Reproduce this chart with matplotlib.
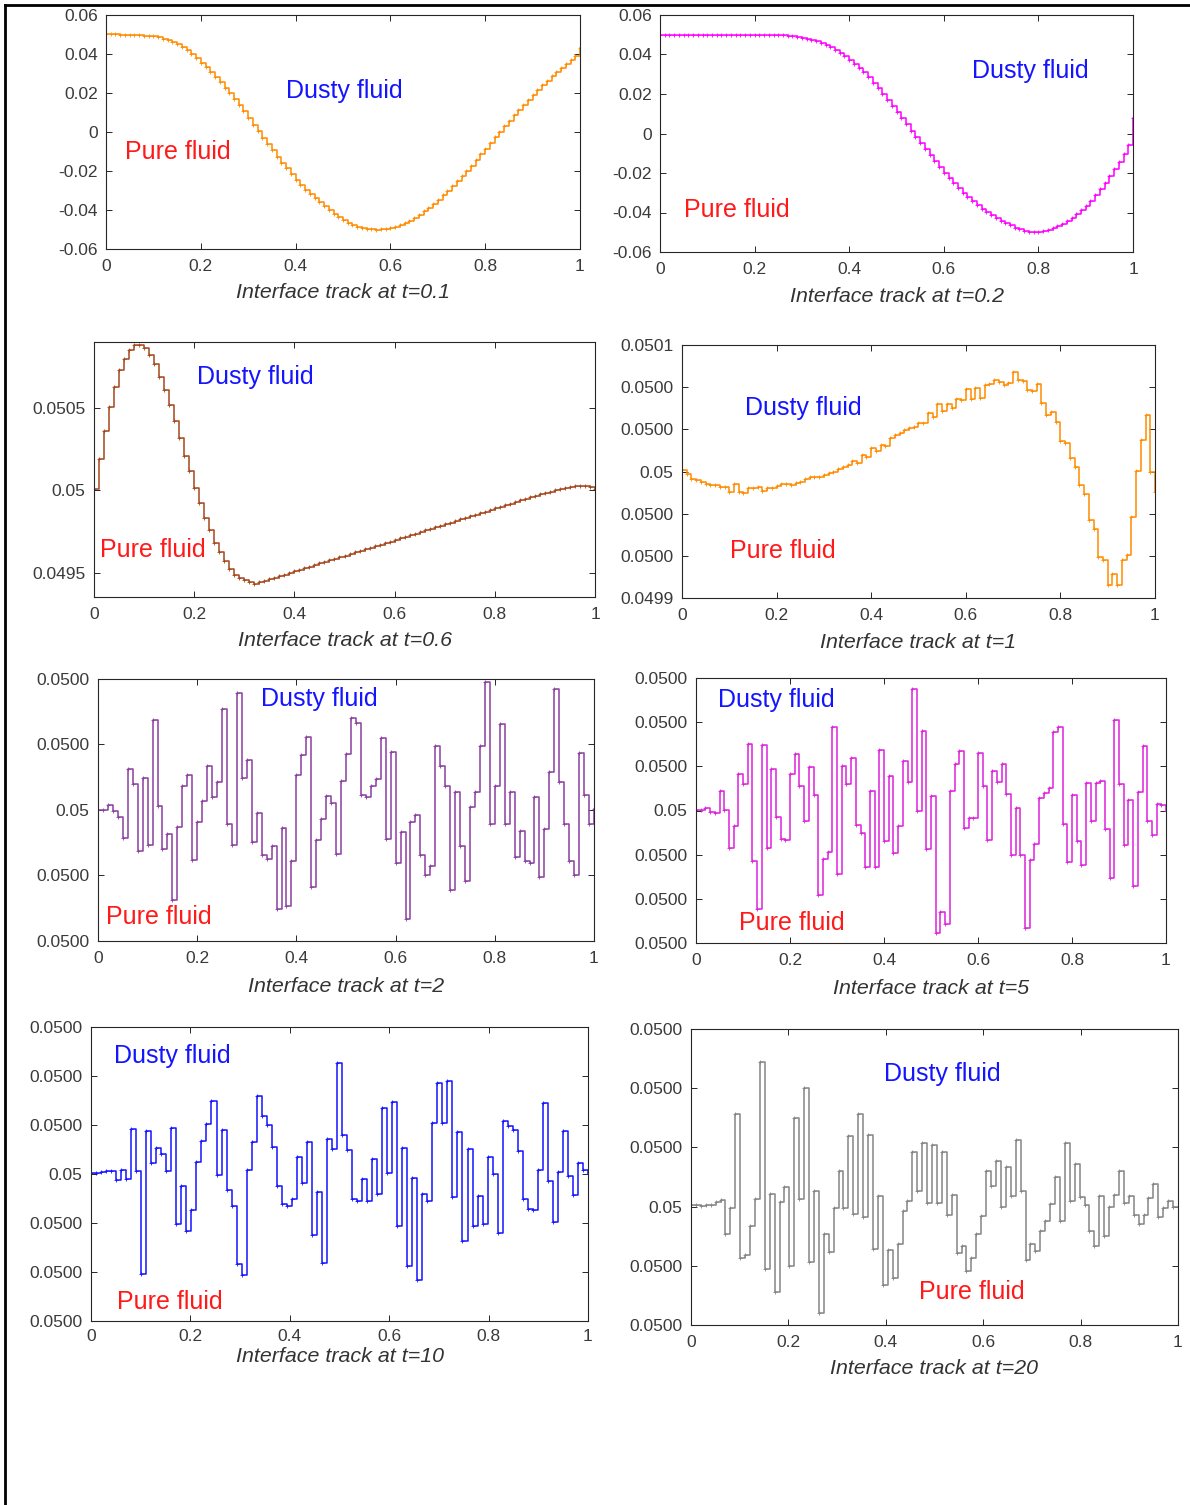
import numpy as np
import matplotlib
matplotlib.use("Agg")
import matplotlib.pyplot as plt
from matplotlib.lines import Line2D
from matplotlib.ticker import FuncFormatter

plt.rcParams['font.family'] = ['Liberation Sans', 'DejaVu Sans']
plt.rcParams['axes.unicode_minus'] = False

# ---- data (one value per cell of width 0.01) ----
track_t01 = [
    0.0500, 0.0500, 0.0500, 0.0499, 0.0499, 0.0498, 0.0497, 0.0496, 0.0494, 0.0492, 0.0490,
    0.0485, 0.0479, 0.0471, 0.0461, 0.0449, 0.0435, 0.0419, 0.0400, 0.0378, 0.0355,
    0.0332, 0.0307, 0.0281, 0.0254, 0.0226, 0.0198, 0.0169, 0.0140, 0.0106, 0.0072,
    0.0038, 0.0004, -0.0029, -0.0062, -0.0094, -0.0126, -0.0157, -0.0187, -0.0216, -0.0244,
    -0.0270, -0.0295, -0.0318, -0.0340, -0.0360, -0.0379, -0.0399, -0.0418, -0.0435, -0.0450,
    -0.0466, -0.0477, -0.0485, -0.0492, -0.0496, -0.0499, -0.0500, -0.0499, -0.0496, -0.0492,
    -0.0485, -0.0477, -0.0466, -0.0454, -0.0440, -0.0424, -0.0407, -0.0388, -0.0368, -0.0347,
    -0.0325, -0.0302, -0.0278, -0.0253, -0.0227, -0.0200, -0.0172, -0.0144, -0.0115, -0.0086,
    -0.0057, -0.0028, 0.0001, 0.0030, 0.0058, 0.0086, 0.0113, 0.0140, 0.0166, 0.0191,
    0.0216, 0.0240, 0.0263, 0.0285, 0.0306, 0.0327, 0.0348, 0.0369, 0.0390, 0.0430]

track_t02 = [0.0500] * 21 + [
    0.0500, 0.0500, 0.0499, 0.0499, 0.0498, 0.0497, 0.0495, 0.0493, 0.0490, 0.0486,
    0.0481, 0.0475, 0.0468, 0.0459, 0.0449, 0.0437, 0.0424, 0.0409, 0.0392, 0.0374,
    0.0354, 0.0332, 0.0309, 0.0284,
    0.0258, 0.0230, 0.0201, 0.0171, 0.0141, 0.0110, 0.0079, 0.0047, 0.0015, -0.0017,
    -0.0049, -0.0080, -0.0111, -0.0141, -0.0170, -0.0198, -0.0225, -0.0251, -0.0276, -0.0300,
    -0.0322, -0.0343, -0.0363, -0.0381, -0.0398, -0.0414, -0.0429, -0.0442, -0.0454, -0.0465,
    -0.0476, -0.0486, -0.0494, -0.0499, -0.0500, -0.0498, -0.0494, -0.0488, -0.0480, -0.0470,
    -0.0458, -0.0444, -0.0428, -0.0410, -0.0389, -0.0366, -0.0340, -0.0312, -0.0282, -0.0250,
    -0.0216, -0.0180, -0.0142, -0.0102, -0.0060, 0.0078]

track_t06 = [
    0.050007, 0.050189, 0.050355, 0.050502, 0.050623, 0.050726, 0.050797, 0.050847, 0.050876,
    0.050876, 0.050858, 0.050819, 0.050761, 0.050686, 0.050609, 0.050516, 0.050421, 0.050316,
    0.050209, 0.050116, 0.050013, 0.049920, 0.049829, 0.049755, 0.049680, 0.049623, 0.049573,
    0.049522, 0.049488, 0.049468, 0.049453, 0.049441, 0.049433,
    0.049440, 0.049450, 0.049459, 0.049469, 0.049478, 0.049488, 0.049497, 0.049507, 0.049516,
    0.049526, 0.049536, 0.049545, 0.049555, 0.049564, 0.049574, 0.049583, 0.049593, 0.049602,
    0.049612, 0.049622, 0.049631, 0.049641, 0.049650, 0.049660, 0.049669, 0.049679, 0.049688,
    0.049698, 0.049708, 0.049717, 0.049727, 0.049736, 0.049746, 0.049755, 0.049765, 0.049774,
    0.049784, 0.049794, 0.049803, 0.049813, 0.049822, 0.049832, 0.049841, 0.049851, 0.049860,
    0.049870, 0.049880, 0.049889, 0.049899, 0.049908, 0.049918, 0.049927, 0.049937, 0.049946,
    0.049956, 0.049965, 0.049974, 0.049982, 0.049990, 0.049998, 0.050006, 0.050013, 0.050020,
    0.050024, 0.050026, 0.050024, 0.050018, 0.050008]

# deviations from 0.05, in units of 2e-5 (t=1) and 1e-5 (t=2, 5, 10, 20)
dev_t1 = [
    0.03, -0.06, -0.17, -0.21, -0.26, -0.29, -0.31, -0.33, -0.36, -0.37, -0.48, -0.29, -0.48,
    -0.52, -0.40, -0.40, -0.37, -0.47, -0.40, -0.40, -0.34, -0.29, -0.29, -0.31, -0.27, -0.26,
    -0.17, -0.13, -0.13, -0.13, -0.09, -0.03, -0.01, 0.07, 0.10, 0.15, 0.25, 0.19, 0.39, 0.34,
    0.55, 0.49, 0.63, 0.61, 0.79, 0.86, 0.92, 0.98, 1.02, 1.05, 1.14, 1.14, 1.38, 1.30, 1.60,
    1.44, 1.60, 1.50, 1.72, 1.70, 1.95, 1.71, 1.98, 1.75, 2.06, 2.07, 2.17, 2.13, 2.06, 2.10,
    2.36, 2.17, 2.15, 1.94, 1.90, 2.07, 1.63, 1.34, 1.40, 1.17, 0.73, 0.67, 0.33, 0.10, -0.31,
    -0.54, -1.14, -1.36, -2.03, -2.11, -2.69, -2.43, -2.69, -2.11, -1.98, -1.09, 0.02, 0.74,
    1.33, -0.02, -0.48]

dev_t2 = [
    0.0, 0.0, 0.08, -0.01, -0.10, -0.43, 0.62, 0.40, -0.62, 0.49, -0.53, 1.37, 0.06, -0.59,
    -0.36, -1.38, -0.26, 0.36, 0.54, -0.76, -0.18, 0.14, 0.67, 0.20, 0.42, 1.54, -0.21, -0.53,
    1.78, 0.49, 0.76, -0.49, -0.05, -0.69, -0.75, -0.55, -1.51, -0.28, -1.47, -0.78, 0.54, 0.84,
    1.11, -1.17, -0.46, -0.14, 0.21, 0.10, -0.67, 0.45, 0.86, 1.40, 1.33, 0.23, 0.20, 0.36, 0.48,
    1.10, -0.45, 0.88, -0.81, -0.33, -1.66, -0.19, -0.08, -0.68, -1.00, -0.86, 0.98, 0.67, 0.37,
    -1.22, 0.27, -0.55, -1.09, 0.04, 0.28, 0.98, 1.95, -0.22, 0.36, 1.32, -0.21, 0.28, -0.72,
    -0.32, -0.78, -0.81, 0.20, -1.02, -0.29, 0.58, 1.85, 0.43, -0.21, -0.78, -1.00, 0.87, 0.23,
    -0.21, 0.02]

dev_t5 = [
    0.02, 0.02, 0.05, -0.04, -0.06, 0.45, 0.02, -0.85, -0.36, 0.82, 0.59, 1.50, -1.15, -2.23,
    1.48, -0.85, 0.95, -0.15, -0.64, -0.67, 0.82, 1.29, 0.55, -0.24, 0.98, 0.35, -1.91, -1.10,
    -0.95, 1.90, -1.44, 1.00, 0.61, 1.20, -0.32, -0.51, -1.27, 0.44, -1.29, 1.36, -0.70, 0.78,
    -0.96, -0.36, 1.11, 0.65, 2.75, 0.00, 1.79, -0.87, 0.33, -2.78, -2.29, -2.58, 0.45, 1.05,
    1.35, -0.39, -0.18, -0.17, 1.30, 0.55, -0.67, 0.89, 0.65, 1.06, 0.38, -1.00, 0.06, -1.00,
    -2.67, -1.11, -0.76, 0.29, 0.40, 0.50, 1.77, 1.89, -0.30, -1.17, 0.34, -0.70, -1.23, 0.62,
    -0.23, 0.62, 0.67, -0.43, -1.52, 2.05, 0.59, -0.77, 0.23, -1.70, 0.42, 1.46, -0.24, -0.55,
    0.15, 0.12, -0.02]

dev_t10 = [
    0.03, 0.02, 0.04, 0.07, 0.07, -0.12, 0.09, -0.10, 0.92, 0.07, -2.04, 0.87, 0.22, 0.53, 0.40,
    0.07, 0.94, -1.03, -0.25, -1.16, -0.74, 0.24, 0.67, 1.03, 1.49, -0.03, 0.89, -0.33, -0.65,
    -1.83, -2.07, 0.08, 0.66, 1.59, 1.18, 1.01, 0.55, -0.25, -0.62, -0.66, -0.51, 0.34, -0.18,
    0.66, -1.25, -0.36, -1.81, 0.72, 0.51, 2.27, 0.80, 0.48, -0.51, -0.55, -0.10, -0.55, 0.31,
    -0.41, 1.35, 0.03, 1.46, -1.07, 0.53, -1.87, -0.08, -2.16, -0.40, -0.55, 1.04, 1.86, 1.04,
    1.90, -0.47, 0.85, -1.36, 0.51, -1.06, -0.44, -1.03, 0.34, 0.01, -1.20, 1.08, 0.97, 0.89,
    0.47, -0.51, -0.72, -0.74, 0.09, 1.45, -0.15, -0.97, 0.05, 0.87, -0.05, -0.43, 0.22, 0.08,
    0.00]

dev_t20 = [
    0.02, 0.02, 0.01, 0.02, 0.03, 0.07, 0.11, -0.47, -0.02, 1.56, -0.86, -0.81, -0.33, 0.13,
    2.45, -1.06, 0.22, -1.45, 0.07, 0.33, -1.00, 1.49, 0.13, 2.00, -0.94, 0.26, -1.79, -0.46,
    -0.77, -0.02, 0.60, -0.02, 1.20, -0.12, 1.57, -0.18, 1.21, -0.72, 0.18, -1.32, -0.73, -1.21,
    -0.64, -0.08, 0.09, 0.93, 0.27, 1.08, 0.06, 1.04, 0.06, 0.93, -0.15, 0.19, -0.79, -0.67,
    -1.08, -0.86, -0.47, -0.16, 0.60, 0.34, 0.77, 0.00, 0.67, 0.18, 1.12, 0.27, -0.90, -0.64,
    -0.75, -0.42, -0.25, 0.04, 0.50, -0.25, 1.08, 0.10, 0.72, 0.16, 0.03, -0.42, -0.67, 0.18,
    -0.49, -0.01, 0.20, 0.60, 0.06, 0.18, -0.15, -0.30, -0.14, 0.14, 0.38, -0.18, -0.02, 0.09,
    0.00, 0.00]

times = ["0.1", "0.2", "0.6", "1", "2", "5", "10", "20"]

W, H = 1190, 1505


def box(l, t, r, b):
    """pixel box of the reference -> figure fraction"""
    return [l / W, 1 - b / H, (r - l) / W, (b - t) / H]


def fmt_two(v, pos):
    return '0' if abs(v) < 1e-12 else '%.2f' % v


def fmt_g(v, pos):
    return '%g' % v


def fmt_dev(v, pos):
    return '0.05' if abs(v - 0.05) < 1e-10 else '%.4f' % v


u1 = 2e-5
u2 = 1e-5
panels = [
    # box, values, colour, ylim, yticks, formatter, xlabel offset px, x tick pad, dusty pos, pure pos
    ((106, 15, 580, 249), np.array(track_t01), '#ff8c00', (-0.06, 0.06),
     np.linspace(-0.06, 0.06, 7), fmt_two, 43, 7.5, (0.502, 0.675), (0.152, 0.415)),
    ((660, 15, 1133, 252), np.array(track_t02), '#ff00ff', (-0.06, 0.06),
     np.linspace(-0.06, 0.06, 7), fmt_two, 44, 7.5, (0.782, 0.764), (0.163, 0.177)),
    ((94, 342, 595, 597), np.array(track_t06), '#a5461c', (0.049352, 0.050897),
     [0.0495, 0.05, 0.0505], fmt_g, 43, 7.5, (0.321, 0.863), (0.118, 0.184)),
    ((682, 345, 1155, 598), 0.05 + np.array(dev_t1) * u1, '#ff8c00', (0.05 - 3 * u1, 0.05 + 3 * u1),
     0.05 + np.arange(-3, 4) * u1, fmt_dev, 45, 7.5, (0.256, 0.751), (0.214, 0.186)),
    ((98, 679, 594, 941), 0.05 + np.array(dev_t2) * u2, '#8b3fa0', (0.05 - 2 * u2, 0.05 + 2 * u2),
     0.05 + np.arange(-2, 3) * u2, fmt_dev, 46, 7, (0.446, 0.924), (0.123, 0.091)),
    ((696, 678, 1166, 943), 0.05 + np.array(dev_t5) * u2, '#dd22dd', (0.05 - 3 * u2, 0.05 + 3 * u2),
     0.05 + np.arange(-3, 4) * u2, fmt_dev, 45, 7, (0.170, 0.917), (0.204, 0.075)),
    ((91, 1027, 588, 1321), 0.05 + np.array(dev_t10) * u2, '#1414ff', (0.05 - 3 * u2, 0.05 + 3 * u2),
     0.05 + np.arange(-3, 4) * u2, fmt_dev, 36, 6, (0.163, 0.901), (0.159, 0.065)),
    ((691, 1029, 1178, 1325), 0.05 + np.array(dev_t20) * u2, '#858585', (0.05 - 2 * u2, 0.05 + 3 * u2),
     0.05 + np.arange(-2, 4) * u2, fmt_dev, 43, 7, (0.517, 0.847), (0.577, 0.112)),
]

fig = plt.figure(figsize=(W / 100, H / 100), dpi=100)

for (pix, y, col, ylim, yticks, yfmt, xoff, xpad, pdusty, ppure), t in zip(panels, times):
    ax = fig.add_axes(box(*pix))
    x = np.linspace(0, 1, len(y))
    ax.plot(x, y, drawstyle='steps-post', color=col, lw=1.1,
            marker='+', ms=3, mew=0.6)
    ax.set_xlim(0, 1)
    ax.set_ylim(*ylim)
    ax.set_xticks([0, 0.2, 0.4, 0.6, 0.8, 1])
    ax.set_yticks(yticks)
    ax.xaxis.set_major_formatter(FuncFormatter(fmt_g))
    ax.yaxis.set_major_formatter(FuncFormatter(yfmt))
    ax.tick_params(direction='in', length=4, width=0.7, top=True, right=True,
                   labelsize=12.5, labelcolor='#3a3a3a', color='#262626', pad=6)
    ax.tick_params(axis='x', pad=xpad)
    for s in ax.spines.values():
        s.set_color('#262626')
        s.set_linewidth(0.8)

    ax.text(pdusty[0], pdusty[1], "Dusty fluid", color='#1414ff', fontsize=18,
            ha='center', va='center', transform=ax.transAxes)
    ax.text(ppure[0], ppure[1], "Pure fluid", color='#ff1a1a', fontsize=18,
            ha='center', va='center', transform=ax.transAxes)
    ax.annotate("Interface track at t=" + t, xy=(0.5, 0), xycoords='axes fraction',
                xytext=(0, -xoff * 0.72), textcoords='offset points',
                ha='center', va='center', fontsize=15.4, style='italic', color='#333333')

# frame of the page (left and top edges only)
fig.add_artist(Line2D([5 / W, 5 / W], [0, 1 - 5 / H], transform=fig.transFigure,
                      color='black', lw=2))
fig.add_artist(Line2D([5 / W, 1], [1 - 5 / H, 1 - 5 / H], transform=fig.transFigure,
                      color='black', lw=2))

fig.savefig("out.png", dpi=100)
